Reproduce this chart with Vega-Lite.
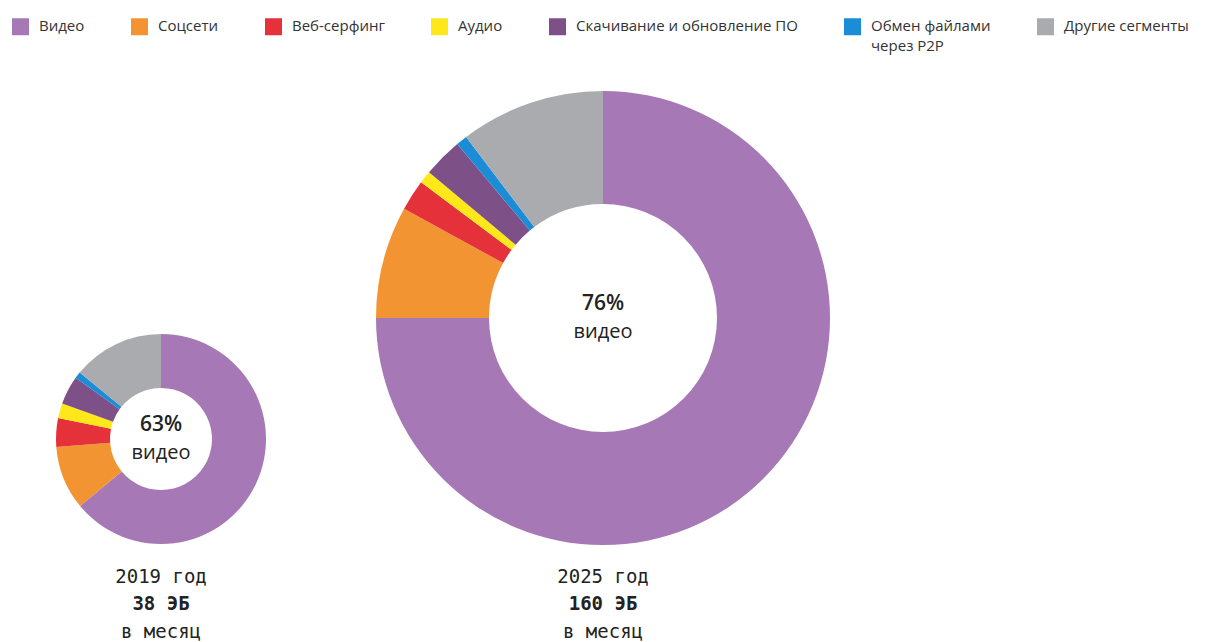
{
  "$schema": "https://vega.github.io/schema/vega-lite/v6.json",
  "width": 1219,
  "height": 642,
  "autosize": {"type": "fit", "contains": "padding"},
  "padding": 0,
  "background": "white",
  "config": {
    "view": {"stroke": null},
    "legend": {
      "orient": "none",
      "legendX": 12,
      "legendY": 18,
      "direction": "horizontal",
      "symbolType": "square",
      "symbolSize": 289,
      "symbolStrokeWidth": 0,
      "symbolOpacity": 1,
      "labelFont": "Open Sans",
      "labelFontSize": 15,
      "labelColor": "#333333",
      "labelLimit": 400,
      "columnPadding": 46,
      "labelOffset": 10,
      "labelBaseline": "top"
    }
  },
  "datasets": {
    "traffic": [
      {"year": 2019, "total": 38, "idx": 1, "segment": "Видео", "share": 64},
      {"year": 2019, "total": 38, "idx": 2, "segment": "Соцсети", "share": 9.8},
      {"year": 2019, "total": 38, "idx": 3, "segment": "Веб-серфинг", "share": 4.4},
      {"year": 2019, "total": 38, "idx": 4, "segment": "Аудио", "share": 2.3},
      {"year": 2019, "total": 38, "idx": 5, "segment": "Скачивание и обновление ПО", "share": 4.4},
      {"year": 2019, "total": 38, "idx": 6, "segment": "Обмен файлами через P2P", "share": 1.0},
      {"year": 2019, "total": 38, "idx": 7, "segment": "Другие сегменты", "share": 14.1},
      {"year": 2025, "total": 160, "idx": 1, "segment": "Видео", "share": 75},
      {"year": 2025, "total": 160, "idx": 2, "segment": "Соцсети", "share": 8},
      {"year": 2025, "total": 160, "idx": 3, "segment": "Веб-серфинг", "share": 2.2},
      {"year": 2025, "total": 160, "idx": 4, "segment": "Аудио", "share": 0.9},
      {"year": 2025, "total": 160, "idx": 5, "segment": "Скачивание и обновление ПО", "share": 2.8},
      {"year": 2025, "total": 160, "idx": 6, "segment": "Обмен файлами через P2P", "share": 0.8},
      {"year": 2025, "total": 160, "idx": 7, "segment": "Другие сегменты", "share": 10.3}
    ],
    "summary": [
      {"year": 2019, "total": 38, "pct": "63%", "word": "видео", "ylabel": "2019 год", "vol": "38 ЭБ", "per": "в месяц"},
      {"year": 2025, "total": 160, "pct": "76%", "word": "видео", "ylabel": "2025 год", "vol": "160 ЭБ", "per": "в месяц"}
    ]
  },
  "resolve": {"scale": {"y": "independent"}},
  "layer": [
    {
      "data": {"name": "traffic"},
      "transform": [{"filter": "datum.year == 2019"}],
      "mark": {"type": "arc", "outerRadius": 105, "innerRadius": 51, "strokeWidth": 0},
      "encoding": {
        "theta": {"field": "share", "type": "quantitative", "stack": true, "scale": {"domain": [0, 100]}},
        "order": {"field": "idx", "type": "quantitative"},
        "color": {
          "field": "segment", "type": "nominal", "title": null,
          "scale": {
            "domain": ["Видео", "Соцсети", "Веб-серфинг", "Аудио", "Скачивание и обновление ПО", "Обмен файлами через P2P", "Другие сегменты"],
            "range": ["#A678B6", "#F39432", "#E5323A", "#FFE81A", "#7D5188", "#1B8DD6", "#AAABAE"]
          },
          "legend": {
            "labelExpr": "datum.label == 'Обмен файлами через P2P' ? ['Обмен файлами', 'через P2P'] : [datum.label, '']",
            "encode": {"labels": {"update": {"dy": {"value": -8}, "lineHeight": {"value": 20}}}}
          }
        },
        "x": {"field": "year", "type": "quantitative", "axis": null, "scale": {"domain": [2019, 2025], "range": [161, 603], "zero": false, "nice": false}},
        "y": {"field": "total", "type": "quantitative", "axis": null, "scale": {"domain": [38, 160], "range": [439, 318], "zero": false, "nice": false}}
      }
    },
    {
      "data": {"name": "traffic"},
      "transform": [{"filter": "datum.year == 2025"}],
      "mark": {"type": "arc", "outerRadius": 227, "innerRadius": 114, "strokeWidth": 0},
      "encoding": {
        "theta": {"field": "share", "type": "quantitative", "stack": true},
        "order": {"field": "idx", "type": "quantitative"},
        "color": {"field": "segment", "type": "nominal"},
        "x": {"field": "year", "type": "quantitative"},
        "y": {"field": "total", "type": "quantitative", "axis": null, "scale": {"domain": [38, 160], "range": [439, 318], "zero": false, "nice": false}}
      }
    },
    {
      "data": {"name": "summary"},
      "mark": {"type": "text", "font": "Open Sans", "fontSize": 21, "fontWeight": 600, "color": "#222222", "dy": -14, "baseline": "middle", "align": "center"},
      "encoding": {
        "text": {"field": "pct"},
        "x": {"field": "year", "type": "quantitative"},
        "y": {"field": "total", "type": "quantitative", "axis": null, "scale": {"domain": [38, 160], "range": [439, 318], "zero": false, "nice": false}}
      }
    },
    {
      "data": {"name": "summary"},
      "mark": {"type": "text", "font": "Open Sans", "fontSize": 20, "color": "#222222", "dy": 14, "baseline": "middle", "align": "center"},
      "encoding": {
        "text": {"field": "word"},
        "x": {"field": "year", "type": "quantitative"},
        "y": {"field": "total", "type": "quantitative", "axis": null, "scale": {"domain": [38, 160], "range": [439, 318], "zero": false, "nice": false}}
      }
    },
    {
      "data": {"name": "summary"},
      "mark": {"type": "text", "font": "DejaVu Sans Mono", "fontSize": 19, "color": "#222222", "baseline": "middle", "align": "center"},
      "encoding": {
        "text": {"field": "ylabel"},
        "x": {"field": "year", "type": "quantitative"},
        "y": {"field": "total", "type": "quantitative", "axis": null, "scale": {"domain": [38, 160], "range": [577, 577], "zero": false, "nice": false}}
      }
    },
    {
      "data": {"name": "summary"},
      "mark": {"type": "text", "font": "DejaVu Sans Mono", "fontSize": 19, "fontWeight": "bold", "color": "#222222", "dy": 27, "baseline": "middle", "align": "center"},
      "encoding": {
        "text": {"field": "vol"},
        "x": {"field": "year", "type": "quantitative"},
        "y": {"field": "total", "type": "quantitative", "axis": null, "scale": {"domain": [38, 160], "range": [577, 577], "zero": false, "nice": false}}
      }
    },
    {
      "data": {"name": "summary"},
      "mark": {"type": "text", "font": "DejaVu Sans Mono", "fontSize": 19, "color": "#222222", "dy": 55, "baseline": "middle", "align": "center"},
      "encoding": {
        "text": {"field": "per"},
        "x": {"field": "year", "type": "quantitative"},
        "y": {"field": "total", "type": "quantitative", "axis": null, "scale": {"domain": [38, 160], "range": [577, 577], "zero": false, "nice": false}}
      }
    }
  ]
}
